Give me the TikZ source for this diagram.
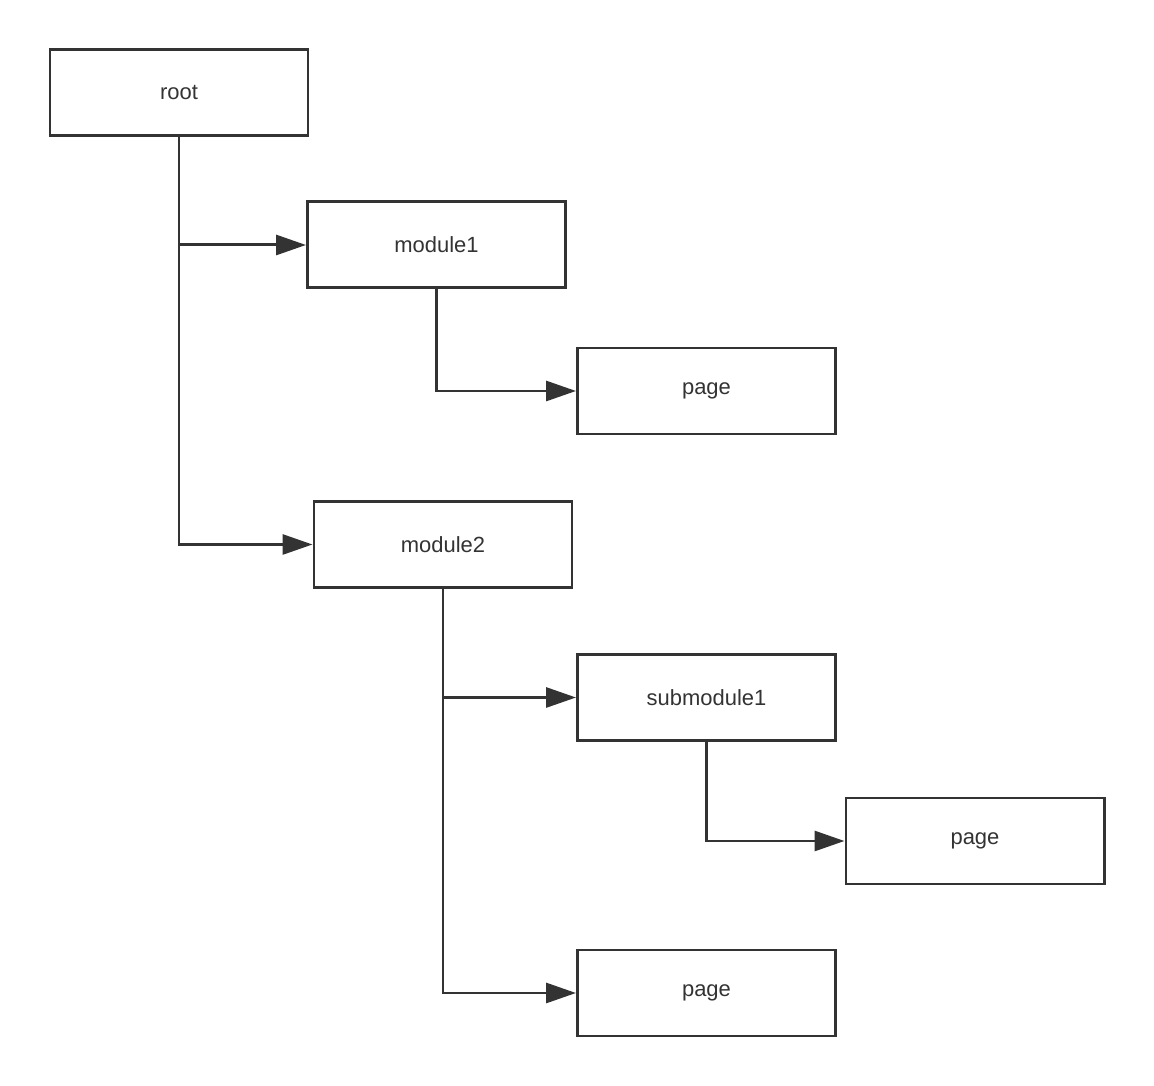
\documentclass[tikz,border=0pt]{standalone}
\usepackage{fontspec}
\setmainfont{Liberation Sans}
\usetikzlibrary{arrows.meta}
\definecolor{linegray}{HTML}{333333}

\begin{document}
\begin{tikzpicture}[
  box/.style={shape=rectangle,draw=linegray,line width=1.7pt,minimum width=5.16cm,minimum height=1.72cm,font=\fontsize{12.5}{14}\selectfont,text=linegray},
  link/.style={draw=linegray,line width=1.7pt,-{Triangle[length=0.6cm,width=0.4cm]}}
]
\useasboundingbox (0,0) rectangle (23.08,-21.72);
\draw (3.58,-1.85) node (root) [box] {root};
\draw (8.73,-4.9) node (mod1) [box] {module1};
\draw (14.13,-7.82) node (page1) [box] {page};
\draw (8.86,-10.89) node (mod2) [box] {module2};
\draw (14.13,-13.95) node (sub1) [box] {submodule1};
\draw (19.5,-16.82) node (page2) [box] {page};
\draw (14.13,-19.86) node (page3) [box] {page};
% root branches
\coordinate (rootb) at (root.south |- mod1.west);
\draw [link] (root.south) |- (mod2.west);
\draw [link] (rootb) -- (mod1.west);
\draw [link] (mod1.south) |- (page1.west);
% module2 branches
\coordinate (mod2b) at (mod2.south |- sub1.west);
\draw [link] (mod2.south) |- (page3.west);
\draw [link] (mod2b) -- (sub1.west);
\draw [link] (sub1.south) |- (page2.west);
\end{tikzpicture}
\end{document}
